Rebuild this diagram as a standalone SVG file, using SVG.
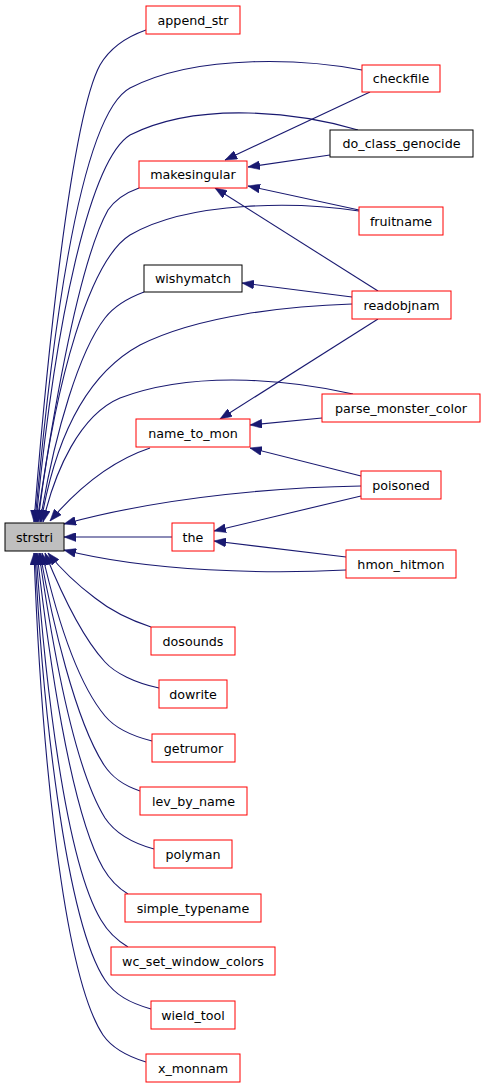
<svg xmlns="http://www.w3.org/2000/svg" width="485" height="1088" viewBox="0 0 485 1088">
<style>
.n rect{fill:#ffffff;stroke:#ff0000;stroke-width:1}
.n.b rect{stroke:#000000}
.n.root rect{fill:#bfbfbf;stroke:#000000}
.n text{font-family:"DejaVu Sans","Liberation Sans",sans-serif;font-size:12.7px;fill:#000000;text-anchor:middle}
#edges path{fill:none;stroke:#191970;stroke-width:1.1;marker-end:url(#ah)}
</style>
<defs>
<marker id="ah" markerUnits="userSpaceOnUse" markerWidth="12" markerHeight="9" viewBox="0 0 12 9" refX="12" refY="4.5" orient="auto">
<path d="M0,0 L12,4.5 L0,9 z" fill="#191970" stroke="#191970" stroke-width="0.5"/>
</marker>
</defs>
<rect x="0" y="0" width="485" height="1088" fill="#ffffff"/>
<g id="edges">
<path d="M146,30 C126,37 110,48 100,65 C70,120 45,380 34,522"/>
<path d="M362,70 C310,60 200,52 130,88 C80,115 52,330 35,522"/>
<path d="M358,130 C300,113 200,100 130,135 C90,160 55,320 36,522"/>
<path d="M139,188 C125,193 115,200 108,210 C80,260 55,400 37,522"/>
<path d="M359,211 C300,202 190,200 130,235 C90,260 55,380 38,522"/>
<path d="M144,292 C128,298 115,305 105,318 C80,350 55,430 40,522"/>
<path d="M352,304 C290,306 200,315 140,345 C85,375 55,440 41,522"/>
<path d="M353,394 C300,382 200,368 120,398 C80,415 55,470 43,522"/>
<path d="M150,448 C120,458 85,480 50,521"/>
<path d="M361,486 C290,487 170,495 64,524"/>
<path d="M172,537 L64,537"/>
<path d="M346,570 C270,574 150,572 64,550"/>
<path d="M151,627 C130,620 110,610 95,598 C75,583 60,568 48,553"/>
<path d="M159,688 C135,683 115,673 105,662 C80,635 60,590 45,553"/>
<path d="M152,741 C132,736 115,728 105,716 C75,680 55,610 42,553"/>
<path d="M140,791 C122,785 112,777 104,765 C75,720 52,620 40,553"/>
<path d="M154,849 C132,843 115,833 105,818 C72,765 50,630 39,553"/>
<path d="M128,894 C118,888 110,880 103,868 C70,810 48,650 37,553"/>
<path d="M128,947 C118,941 108,932 101,920 C65,860 45,680 36,553"/>
<path d="M151,1009 C130,1003 115,995 105,980 C65,920 42,700 35,553"/>
<path d="M146,1062 C126,1056 112,1048 103,1035 C60,970 40,720 34,553"/>
<path d="M370,92 L225,160"/>
<path d="M330,155 L248,167"/>
<path d="M359,210 L248,186"/>
<path d="M378,291 L215,188"/>
<path d="M352,297 L242,283"/>
<path d="M378,319 L220,419"/>
<path d="M322,418 L250,425"/>
<path d="M361,476 L250,448"/>
<path d="M361,496 L214,531"/>
<path d="M346,557 L214,541"/>
</g>
<g id="append_str" class="n"><rect x="146" y="6" width="94" height="28"/><text x="193" y="24.5">append_str</text></g>
<g id="checkfile" class="n"><rect x="362" y="65" width="78" height="27"/><text x="401" y="83">checkfile</text></g>
<g id="do_class_genocide" class="n b"><rect x="330" y="130" width="143" height="27"/><text x="401.5" y="148">do_class_genocide</text></g>
<g id="makesingular" class="n"><rect x="139" y="161" width="108" height="27"/><text x="193" y="179">makesingular</text></g>
<g id="fruitname" class="n"><rect x="359" y="207" width="84" height="28"/><text x="401" y="225.5">fruitname</text></g>
<g id="wishymatch" class="n b"><rect x="144" y="265" width="98" height="27"/><text x="193" y="283">wishymatch</text></g>
<g id="readobjnam" class="n"><rect x="352" y="291" width="99" height="28"/><text x="401.5" y="309.5">readobjnam</text></g>
<g id="parse_monster_color" class="n"><rect x="322" y="394" width="158" height="28"/><text x="401" y="412.5">parse_monster_color</text></g>
<g id="name_to_mon" class="n"><rect x="136" y="419" width="114" height="28"/><text x="193" y="437.5">name_to_mon</text></g>
<g id="poisoned" class="n"><rect x="361" y="471" width="80" height="28"/><text x="401" y="489.5">poisoned</text></g>
<g id="strstri" class="n root"><rect x="5" y="523" width="59" height="28"/><text x="34.5" y="541.5">strstri</text></g>
<g id="the" class="n"><rect x="172" y="523" width="42" height="28"/><text x="193" y="541.5">the</text></g>
<g id="hmon_hitmon" class="n"><rect x="346" y="550" width="110" height="28"/><text x="401" y="568.5">hmon_hitmon</text></g>
<g id="dosounds" class="n"><rect x="151" y="627" width="84" height="28"/><text x="193" y="645.5">dosounds</text></g>
<g id="dowrite" class="n"><rect x="159" y="680" width="68" height="28"/><text x="193" y="698.5">dowrite</text></g>
<g id="getrumor" class="n"><rect x="152" y="734" width="83" height="28"/><text x="193.5" y="752.5">getrumor</text></g>
<g id="lev_by_name" class="n"><rect x="140" y="787" width="107" height="28"/><text x="193.5" y="805.5">lev_by_name</text></g>
<g id="polyman" class="n"><rect x="154" y="840" width="78" height="28"/><text x="193" y="858.5">polyman</text></g>
<g id="simple_typename" class="n"><rect x="125" y="894" width="136" height="28"/><text x="193" y="912.5">simple_typename</text></g>
<g id="wc_set_window_colors" class="n"><rect x="111" y="947" width="164" height="28"/><text x="193" y="965.5">wc_set_window_colors</text></g>
<g id="wield_tool" class="n"><rect x="151" y="1001" width="84" height="28"/><text x="193" y="1019.5">wield_tool</text></g>
<g id="x_monnam" class="n"><rect x="146" y="1054" width="94" height="28"/><text x="193" y="1072.5">x_monnam</text></g>
</svg>
